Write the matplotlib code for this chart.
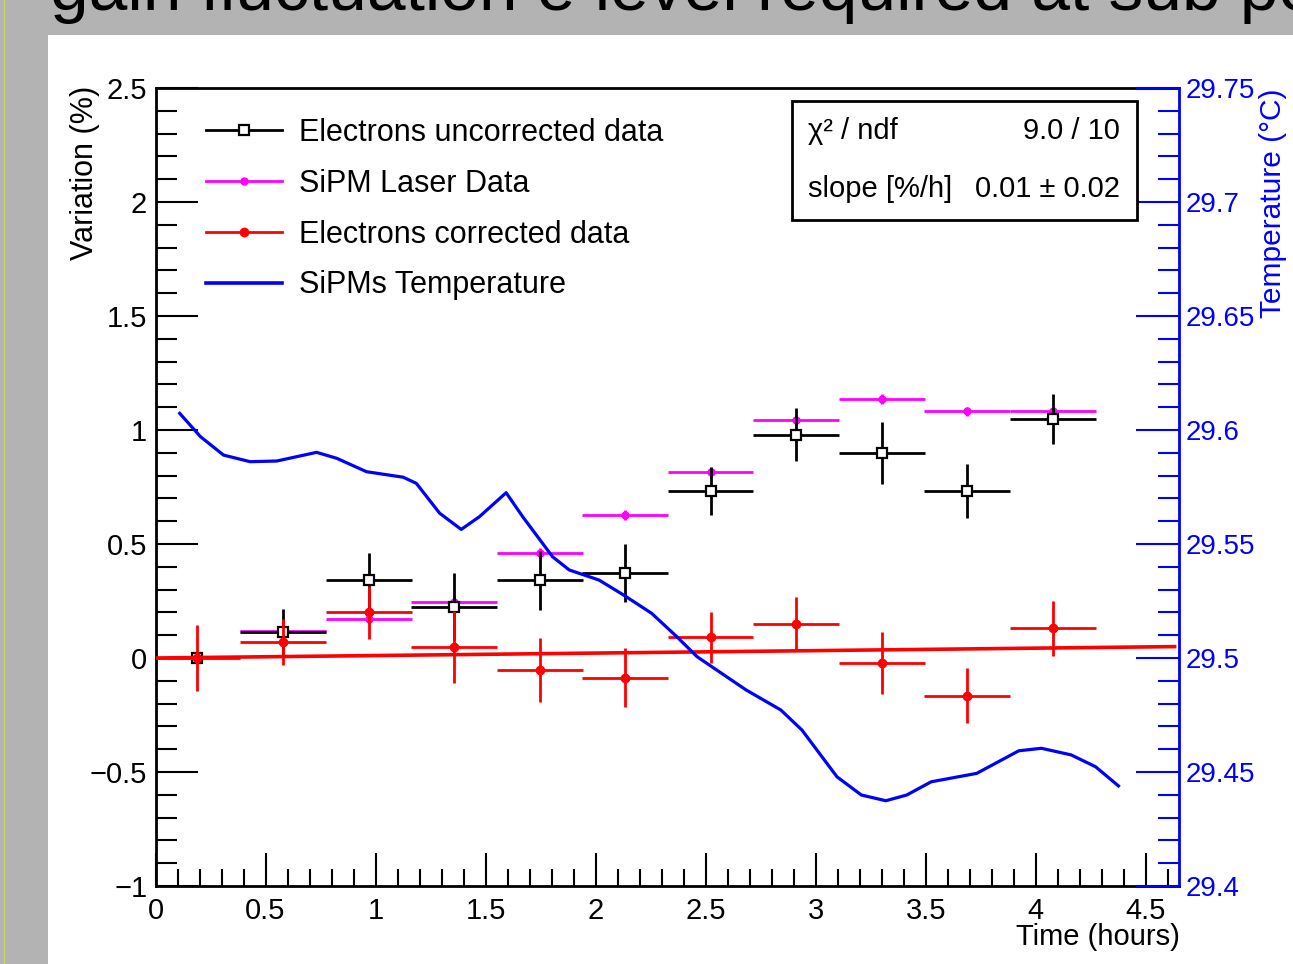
import numpy as np
import matplotlib
matplotlib.use("Agg")
import matplotlib.pyplot as plt
from matplotlib.lines import Line2D
from matplotlib.patches import Rectangle
from matplotlib.ticker import MultipleLocator, FuncFormatter

plt.rcParams['font.family'] = ['Liberation Sans', 'DejaVu Sans']

# bin centres (hours) and half widths
time_h = [0.189, 0.579, 0.970, 1.356, 1.747, 2.133, 2.522, 2.910, 3.301, 3.687, 4.078]
time_halfwidth = [0.0, 0.194, 0.194, 0.194, 0.194, 0.194, 0.194, 0.194, 0.194, 0.194, 0.194]

# Electrons uncorrected data (%)
uncorr = [0.0, 0.113, 0.34, 0.224, 0.34, 0.374, 0.732, 0.98, 0.898, 0.732, 1.047]
uncorr_err = [0.0, 0.10, 0.12, 0.147, 0.13, 0.128, 0.105, 0.115, 0.135, 0.12, 0.11]

# SiPM laser data (%)
laser = [0.0, 0.12, 0.172, 0.247, 0.462, 0.627, 0.815, 1.042, 1.136, 1.083, 1.083]
laser_err = [0.0, 0.02, 0.02, 0.02, 0.02, 0.02, 0.02, 0.02, 0.02, 0.02, 0.02]

# Electrons corrected data (%)
corr = [0.0, 0.069, 0.20, 0.048, -0.053, -0.086, 0.09, 0.15, -0.023, -0.165, 0.13]
corr_err = [0.145, 0.10, 0.115, 0.157, 0.14, 0.13, 0.11, 0.117, 0.135, 0.12, 0.12]
corr_xerr = [0.194] * 11

# linear fit to corrected data
fit_intercept = 0.0
fit_slope = 0.0108
fit_range = (0.0, 4.63)

# SiPMs temperature (deg C)
temp_t = [0.110, 0.204, 0.309, 0.430, 0.551, 0.732, 0.823, 0.959, 1.125, 1.185,
          1.291, 1.389, 1.472, 1.593, 1.668, 1.804, 1.880, 2.015, 2.127, 2.254,
          2.369, 2.460, 2.683, 2.841, 2.937, 3.096, 3.207, 3.318, 3.413, 3.524,
          3.731, 3.922, 4.025, 4.160, 4.271, 4.375]
temp_c = [29.6073, 29.5971, 29.5890, 29.5861, 29.5864, 29.5902, 29.5876, 29.5817, 29.5793, 29.5766,
          29.5635, 29.5564, 29.5620, 29.5725, 29.5620, 29.5444, 29.5386, 29.5342, 29.5276, 29.5196,
          29.5093, 29.5006, 29.4860, 29.4772, 29.4684, 29.4479, 29.4399, 29.4374, 29.4399, 29.4457,
          29.4494, 29.4593, 29.4604, 29.4575, 29.4523, 29.4439]

W, H = 1293, 964
fig = plt.figure(figsize=(W / 100, H / 100), dpi=100)
fig.patch.set_facecolor('#b3b3b3')
# white pad behind the canvas
fig.patches.append(Rectangle((48 / W, 0), 1 - 48 / W, 1 - 35 / H, transform=fig.transFigure,
                             facecolor='white', edgecolor='none', zorder=-10))
fig.add_artist(Line2D([4 / W, 4 / W], [0, 1], transform=fig.transFigure, color='#c9d36a', lw=1,
                      zorder=-9))

# slide title, only its lower part is on screen
fig.text(50 / W, 1 - 10 / H, 'gain fluctuation e level required at sub per mille',
         fontsize=50, ha='left', va='baseline', color='black')

ax = fig.add_axes([155.5 / W, 1 - 886 / H, (1179 - 155.5) / W, (886 - 88) / H])
ax.set_xlim(0, 4.65)
ax.set_ylim(-1, 2.5)
ax.set_facecolor('none')

fmt = FuncFormatter(lambda v, p: ('%g' % v).replace('-', '\u2212'))
ax.xaxis.set_major_locator(MultipleLocator(0.5))
ax.xaxis.set_minor_locator(MultipleLocator(0.1))
ax.yaxis.set_major_locator(MultipleLocator(0.5))
ax.yaxis.set_minor_locator(MultipleLocator(0.1))
ax.xaxis.set_major_formatter(fmt)
ax.yaxis.set_major_formatter(fmt)
ax.tick_params(axis='x', which='major', direction='in', length=24, width=1.5, labelsize=21, pad=8, top=False)
ax.tick_params(axis='x', which='minor', direction='in', length=12, width=1.5, top=False)
ax.tick_params(axis='y', which='major', direction='in', length=30, width=1.5, labelsize=21, pad=6, right=False)
ax.tick_params(axis='y', which='minor', direction='in', length=15, width=1.5, right=False)
for s in ax.spines.values():
    s.set_linewidth(2)
ax.spines['right'].set_visible(False)

# data
ax.errorbar(time_h, uncorr, xerr=time_halfwidth, yerr=uncorr_err, fmt='s', color='black',
            mfc='white', mec='black', ms=7, mew=1.6, elinewidth=2, capsize=0, zorder=3)
ax.errorbar(time_h, laser, xerr=time_halfwidth, yerr=laser_err, fmt='o', color='#ff00ff',
            ms=5, elinewidth=2, capsize=0, zorder=2)
ax.errorbar(time_h, corr, xerr=corr_xerr, yerr=corr_err, fmt='o', color='#ff0000',
            ms=6, elinewidth=2, capsize=0, zorder=4)
fx = np.array(fit_range)
ax.plot(fx, fit_intercept + fit_slope * fx, color='#ff0000', lw=2.6, zorder=5)

# temperature axis
ax2 = ax.twinx()
ax2.set_ylim(29.4, 29.75)
ax2.plot(temp_t, temp_c, color='#0000ff', lw=2.3, zorder=6, solid_joinstyle='round')
ax2.yaxis.set_major_locator(MultipleLocator(0.05))
ax2.yaxis.set_minor_locator(MultipleLocator(0.01))
ax2.yaxis.set_major_formatter(FuncFormatter(lambda v, p: '%g' % round(v, 2)))
ax2.tick_params(axis='y', which='major', direction='in', length=31, width=1.5, colors='#0000ff',
                labelsize=20, pad=5)
ax2.tick_params(axis='y', which='minor', direction='in', length=15, width=1.5, colors='#0000ff')
for k in ('left', 'top', 'bottom'):
    ax2.spines[k].set_visible(False)
ax2.spines['right'].set_color('#0000ff')
ax2.spines['right'].set_linewidth(2)

# axis titles
fig.text(85 / W, 1 - 86 / H, 'Variation (%)', rotation=90, ha='center', va='top', fontsize=22)
fig.text(1259 / W, 1 - 88 / H, 'Temperature (\u00b0C)', rotation=90, ha='left', va='top',
         fontsize=21.5, color='#0000ff')
fig.text(1180 / W, 1 - 937 / H, 'Time (hours)', ha='right', va='center', fontsize=21)

# legend
handles = [
    Line2D([], [], color='black', lw=2, marker='s', mfc='white', mec='black', ms=7, mew=1.6),
    Line2D([], [], color='#ff00ff', lw=2, marker='o', ms=5),
    Line2D([], [], color='#ff0000', lw=2, marker='o', ms=6),
    Line2D([], [], color='#0000ff', lw=2.6),
]
labels = ['Electrons uncorrected data', 'SiPM Laser Data', 'Electrons corrected data',
          'SiPMs Temperature']
ax2.legend(handles, labels, loc='upper left', bbox_to_anchor=(206 / W, 1 - 118 / H),
           bbox_transform=fig.transFigure, frameon=False, fontsize=22, handlelength=2.5,
           handletextpad=0.55, labelspacing=0.68, borderpad=0, borderaxespad=0)

# fit stats box
fig.patches.append(Rectangle((792 / W, 1 - 220 / H), (1137 - 792) / W, (220 - 101) / H,
                             transform=fig.transFigure, facecolor='white', edgecolor='black',
                             lw=2, zorder=10))
fig.text(808 / W, 1 - 131 / H, '\u03c7\u00b2 / ndf', ha='left', va='center', fontsize=21, zorder=11)
fig.text(1120 / W, 1 - 131 / H, '9.0 / 10', ha='right', va='center', fontsize=21, zorder=11)
fig.text(808 / W, 1 - 189 / H, 'slope [%/h]', ha='left', va='center', fontsize=21, zorder=11)
fig.text(1120 / W, 1 - 189 / H, '0.01 \u00b1 0.02', ha='right', va='center', fontsize=21, zorder=11)

fig.savefig('out.png', dpi=100, facecolor=fig.get_facecolor())
